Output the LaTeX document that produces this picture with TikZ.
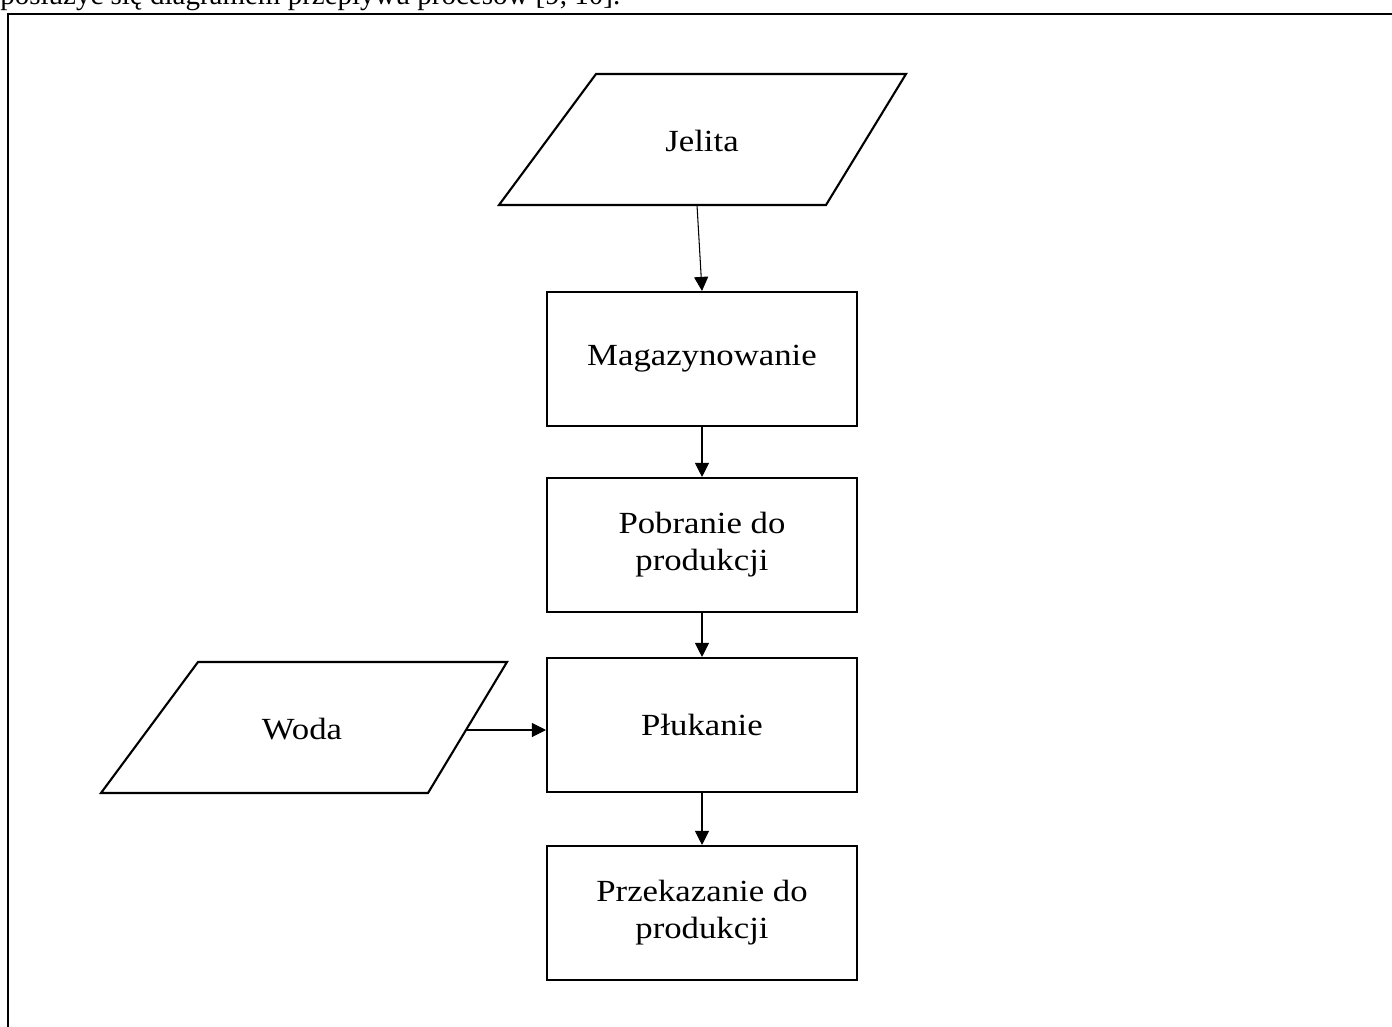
\documentclass[tikz,border=0pt]{standalone}
\usepackage{fontspec}
\setmainfont{Liberation Serif}
\newfontfamily\boxfont[FakeStretch=1.13]{Liberation Serif}
\usetikzlibrary{arrows.meta}
\begin{document}
\begin{tikzpicture}[x=0.02cm,y=-0.02cm,
  procbox/.style={draw,line width=1.2pt,minimum width=6.2cm,minimum height=2.68cm,inner sep=0pt,align=center,font=\boxfont\fontsize{17.5}{21}\selectfont},
  iolabel/.style={inner sep=0pt,align=center,font=\boxfont\fontsize{17.5}{21}\selectfont},
  shapeline/.style={line width=1.2pt,line join=miter},
  flow/.style={line width=0.6pt,-{Triangle[length=8pt,width=8pt]}}]
\useasboundingbox (0,0) rectangle (1392,1027);
% frame
\draw[line width=1.2pt] (8,1040) -- (8,14) -- (1400,14);
% clipped top text
\node[anchor=base west,inner sep=0pt,font=\fontsize{16.5}{20}\selectfont] (toptext) at (0,5) {posłużyć się diagramem przepływu procesów [9, 10].};
% Jelita
\draw[shapeline] (596,74) -- (906,74) -- (826,205) -- (499,205) -- cycle;
\node[iolabel] (jelita) at (702,141) {Jelita};
\coordinate (jelitaB) at (697,205);
% Woda
\draw[shapeline] (198,662) -- (507,662) -- (428,793) -- (101,793) -- cycle;
\node[iolabel] (woda) at (302,729) {Woda};
\coordinate (wodaR) at (465,730);
% boxes
\node[procbox] (mag) at (702,359) {Magazynowanie};
\node[procbox] (pob) at (702,545) {Pobranie do\\produkcji};
\node[procbox] (pluk) at (702,725) {Płukanie};
\node[procbox] (przek) at (702,913) {Przekazanie do\\produkcji};
% connectors
\draw[flow] (jelitaB) -- (mag.north);
\draw[flow] (mag.south) -- (pob.north);
\draw[flow] (pob.south) -- (pluk.north);
\draw[flow] (pluk.south) -- (przek.north);
\draw[flow] (wodaR) -- (wodaR -| pluk.west);
\end{tikzpicture}
\end{document}
